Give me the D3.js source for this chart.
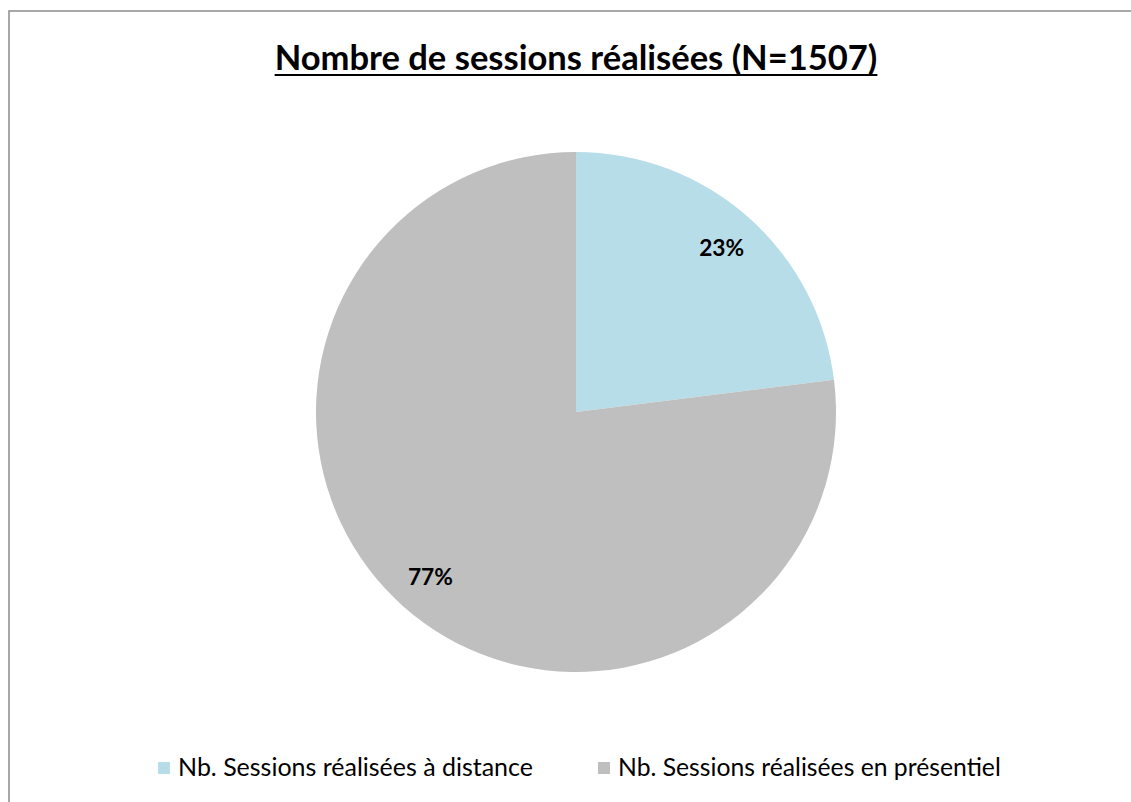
<!DOCTYPE html>
<html>
<head>
<meta charset="utf-8">
<script src="https://cdn.jsdelivr.net/npm/d3@7"></script>
<style>
  html, body { margin: 0; padding: 0; background: #fff; }
  svg { display: block; }
</style>
</head>
<body>
<svg id="chart" width="1131" height="802"></svg>
<script>
const categories = ["Nb. Sessions réalisées à distance", "Nb. Sessions réalisées en présentiel"];
const values = [347, 1160];
const labels = ["23%", "77%"];
const colors = ["#B7DDE8", "#BFBFBF"];
const title = "Nombre de sessions réalisées (N=1507)";

const svg = d3.select("#chart");
const W = 1131, H = 802;
const font = "Lato, 'Open Sans', sans-serif";

// frame
svg.append("path")
  .attr("d", `M9,${H} L9,11 L${W},11`)
  .attr("fill", "none")
  .attr("stroke", "#8c8c8c")
  .attr("stroke-width", 1.5);

// title
const t = svg.append("text")
  .attr("x", 576).attr("y", 70)
  .attr("text-anchor", "middle")
  .attr("font-family", font)
  .attr("font-weight", "bold")
  .attr("font-size", 30)
  .attr("fill", "#000")
  .text(title);
const tw = t.node().getComputedTextLength();
t.attr("font-size", 30 * 603 / tw);
const tw2 = t.node().getComputedTextLength();
svg.append("line")
  .attr("x1", 576 - tw2 / 2).attr("x2", 576 + tw2 / 2)
  .attr("y1", 75).attr("y2", 75)
  .attr("stroke", "#000").attr("stroke-width", 2);

// pie
const cx = 576, cy = 412, R = 260;
const pie = d3.pie().sort(null).value(d => d)(values);
const arc = d3.arc().innerRadius(0).outerRadius(R);
const labelArc = d3.arc().innerRadius(220).outerRadius(220);
const g = svg.append("g").attr("transform", `translate(${cx},${cy})`);
g.selectAll("path.slice").data(pie).join("path")
  .attr("class", "slice")
  .attr("d", arc)
  .attr("fill", (d, i) => colors[i]);
g.selectAll("text.lbl").data(pie).join("text")
  .attr("class", "lbl")
  .attr("transform", d => `translate(${labelArc.centroid(d)})`)
  .attr("text-anchor", "middle")
  .attr("dominant-baseline", "central")
  .attr("font-family", font)
  .attr("font-weight", "bold")
  .attr("font-size", 20)
  .attr("fill", "#000")
  .text((d, i) => labels[i])
  .each(function () {
    const w = this.getComputedTextLength();
    d3.select(this).attr("font-size", 20 * 45 / w);
  });

// legend
const legX = [158, 598];
const legTargetW = [355, 383];
categories.forEach((c, i) => {
  svg.append("rect")
    .attr("x", legX[i]).attr("y", 762)
    .attr("width", 12).attr("height", 12)
    .attr("fill", colors[i]);
  const lt = svg.append("text")
    .attr("x", legX[i] + 20).attr("y", 776)
    .attr("font-family", font)
    .attr("font-size", 20)
    .attr("fill", "#000")
    .text(c);
  const w = lt.node().getComputedTextLength();
  lt.attr("font-size", 20 * legTargetW[i] / w);
});
</script>
</body>
</html>
